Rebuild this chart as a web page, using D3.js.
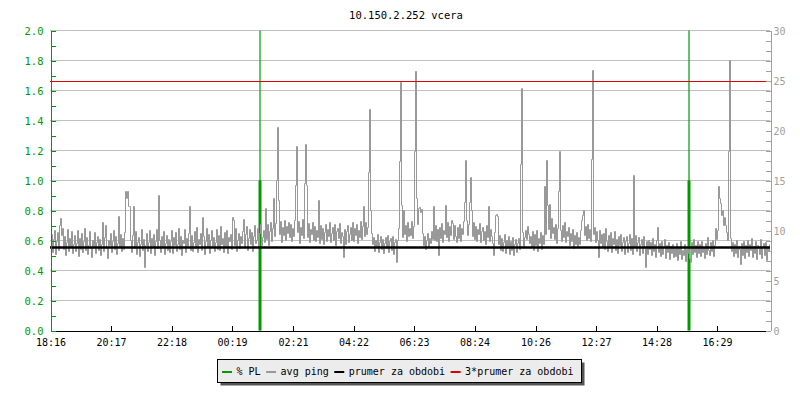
<!DOCTYPE html>
<meta charset="utf-8">
<style>
body { margin: 0; background: #fff; }
svg text { font-family: "DejaVu Sans Mono", monospace; font-size: 10px; }
.grid line { stroke: #c0c0c0; stroke-width: 1px; shape-rendering: crispEdges; }
.axis-pl line, .axis-pl path { stroke: #009a00; shape-rendering: crispEdges; }
.axis-ms line, .axis-ms path { stroke: #a0a0a0; shape-rendering: crispEdges; }
.axis-time line, .axis-time path { stroke: #000; shape-rendering: crispEdges; }
</style>
<svg width="800" height="400" id="graph"></svg>
<script src="https://d3js.org/d3.v7.min.js"></script>
<script>

var title = "10.150.2.252 vcera";
var startTime = "18:16";
var stepMinutes = 2;

// avg ping [ms], one sample every 2 minutes from 18:16 (24 per row = 48 min)
var avgPing = [
  8.4,9.6,7.8,9.1,10.0,7.6,8.9,9.8,8.0,10.5,11.2,9.5,10.2,8.1,9.4,7.5,8.8,10.1,7.9,9.2,8.3,9.9,7.7,8.6,
  9.5,7.9,8.7,10.0,7.4,9.2,8.1,9.7,7.8,8.9,10.2,8.0,9.3,7.6,8.5,9.9,8.2,7.3,9.0,8.4,9.8,7.7,8.8,9.4,
  8.0,9.1,7.5,8.6,10.8,7.9,9.3,10.5,8.2,7.2,9.0,8.5,9.7,7.8,8.9,10.0,8.1,9.4,7.6,8.7,11.4,8.3,9.6,7.9,
  9.2,8.1,9.8,13.9,13.2,13.9,12.4,12.4,9.0,7.8,9.5,12.4,8.2,9.9,7.6,8.8,9.3,7.4,8.6,10.1,8.0,9.1,6.3,8.5,
  9.7,7.9,8.8,10.0,7.7,9.2,8.4,9.6,7.5,8.9,10.1,8.2,13.5,9.0,7.8,9.4,8.3,9.9,7.6,8.7,9.5,8.0,9.1,7.8,
  8.9,10.0,7.7,9.3,8.5,9.8,7.9,8.6,10.2,8.1,9.4,7.5,9.0,8.7,10.1,7.8,9.2,8.4,9.7,12.4,8.0,9.5,7.9,8.8,
  9.9,8.2,10.3,7.8,9.1,8.6,9.7,8.0,11.3,9.4,7.6,8.9,10.2,8.3,9.6,7.7,9.0,10.0,8.4,9.3,7.9,8.8,10.1,8.1,
  9.5,8.0,10.4,8.6,9.2,7.8,9.8,8.4,10.0,7.7,9.3,8.9,9.6,8.1,11.3,11.0,8.5,10.2,7.9,9.0,9.7,8.2,9.4,8.7,
  9.9,11.1,8.3,9.6,10.4,8.0,9.2,10.1,8.6,9.8,7.9,9.4,10.5,8.7,9.0,10.2,8.4,9.7,10.6,8.5,9.3,10.0,8.8,12.2,
  9.1,10.6,8.5,9.9,10.8,8.9,10.2,13.2,9.4,10.7,15.0,20.3,13.0,9.6,10.9,8.8,10.3,9.5,11.0,9.0,10.4,9.7,10.8,9.3,
  10.6,8.9,10.2,9.4,11.0,14.5,18.4,9.8,10.9,8.7,10.3,9.5,11.1,9.2,14.7,18.6,14.5,9.3,10.7,8.8,10.1,9.6,10.8,9.0,
  10.4,8.9,10.0,9.3,13.0,8.7,10.5,9.1,10.2,8.6,9.8,10.6,8.9,10.1,9.4,10.8,8.8,9.7,10.3,9.0,10.6,8.5,9.9,10.2,
  9.2,10.7,8.7,9.8,9.4,7.3,10.1,8.6,9.9,10.5,8.8,9.6,10.3,9.0,10.8,8.9,10.2,9.5,10.6,8.7,10.0,9.3,10.9,9.1,
  10.4,12.4,9.4,10.8,9.6,10.3,15.8,22.1,12.0,9.7,8.6,9.3,7.9,9.0,8.3,9.6,7.8,8.8,9.4,8.1,9.1,7.7,8.7,9.3,
  8.2,9.5,7.8,8.9,9.2,8.0,9.4,7.6,8.8,9.1,6.8,9.0,10.2,16.9,24.8,12.5,9.3,12.0,9.6,10.5,8.9,10.8,9.4,10.2,
  9.5,10.9,9.2,10.4,17.9,25.9,13.2,10.6,12.2,12.3,11.8,12.1,9.7,8.5,9.4,8.1,9.0,9.7,8.3,9.2,8.7,9.9,9.1,12.4,
  9.0,10.5,8.9,10.1,7.5,10.3,9.2,10.7,8.8,10.0,9.6,12.5,9.3,10.8,8.9,10.4,9.5,11.0,10.7,9.1,10.5,9.4,8.8,10.3,
  9.2,10.6,8.9,10.2,9.6,10.9,12.8,17.0,11.0,9.5,10.6,12.8,15.3,12.0,9.4,10.8,9.1,10.4,8.9,10.1,9.6,10.7,8.8,9.9,
  10.3,9.0,9.9,8.6,10.5,9.3,12.4,8.9,10.1,9.4,8.7,7.5,9.8,11.5,11.6,11.4,8.6,9.5,8.0,9.2,7.9,8.8,9.6,7.7,
  9.0,8.2,9.4,7.6,8.9,8.0,9.3,7.5,8.6,9.1,7.8,8.7,9.2,8.1,16.6,24.2,9.8,8.4,9.3,10.0,9.1,10.4,9.6,8.7,
  9.4,8.3,9.9,8.0,9.6,8.5,10.0,7.9,9.2,8.7,9.8,8.1,9.5,8.6,14.4,9.6,17.0,12.5,10.1,12.6,9.2,11.2,9.7,10.3,
  9.1,10.6,8.7,10.2,13.9,17.9,10.0,8.9,10.5,9.3,10.8,8.8,9.9,9.4,10.3,8.5,9.7,8.9,10.1,8.2,9.5,8.6,9.8,8.4,
  9.3,8.6,10.0,11.0,11.5,12.0,9.5,10.4,9.0,10.6,9.2,10.1,8.9,17.1,26.0,9.6,10.3,8.8,9.9,9.0,7.3,10.0,8.7,9.6,
  8.3,9.7,8.1,10.2,8.9,7.9,9.5,8.4,9.8,7.8,9.2,8.6,9.9,8.0,9.1,7.7,9.4,8.5,9.6,7.9,8.8,9.3,7.6,8.9,
  9.4,7.8,8.7,9.6,8.0,9.2,7.6,15.5,8.3,9.5,7.9,8.8,9.3,7.5,8.6,9.1,7.7,9.4,8.2,6.3,8.9,7.6,9.0,8.1,
  8.8,7.5,9.2,7.9,8.6,7.3,9.0,10.3,7.8,8.7,7.4,8.9,7.6,8.3,9.1,7.2,8.5,7.8,8.8,7.1,8.4,7.7,8.6,7.3,
  8.2,7.4,8.7,7.0,8.3,7.6,8.9,7.1,8.0,7.5,8.6,6.9,8.1,7.7,8.4,7.2,6.8,8.8,7.6,9.1,7.8,8.5,7.3,8.9,
  7.7,8.6,7.4,8.9,7.8,8.3,7.2,8.7,7.6,9.3,8.0,7.5,8.8,7.9,9.0,7.4,8.5,10.2,9.1,10.0,14.4,13.2,12.7,11.5,
  12.0,10.5,11.3,10.5,9.8,9.0,17.9,27.0,9.2,7.9,8.8,7.4,8.6,7.7,9.0,7.3,8.4,8.1,6.6,8.7,7.5,8.9,7.2,8.5,
  7.8,9.0,7.4,8.6,8.0,9.2,7.3,8.4,7.7,8.9,7.1,8.5,8.2,7.6,9.1,7.2,8.3,8.7,7.5,8.8,7.0,8.4,7.9,8.6
];
var meanPing = 8.3;

// packet loss [%]
var plTimes = ["01:16", "15:34"];
var plAvg = [1.0, 1.0];
var plMax = [2.0, 2.0];

var timeLabels = ["18:16","20:17","22:18","00:19","02:21","04:22","06:23","08:24","10:26","12:27","14:28","16:29"];
var plTicks = [0, 0.2, 0.4, 0.6, 0.8, 1.0, 1.2, 1.4, 1.6, 1.8, 2.0];
var msTicks = [0, 5, 10, 15, 20, 25, 30];
var legendLabels = ["% PL", "avg ping", "prumer za obdobi", "3*prumer za obdobi"];

var colors = {
  pl: "#009a00",
  ping: "#999999",
  mean: "#000000",
  mean3: "#e00000"
};

function minutesFrom(hhmm) {
  var p = hhmm.split(":"), s = startTime.split(":");
  var m = (+p[0] * 60 + +p[1]) - (+s[0] * 60 + +s[1]);
  if (m < 0) m += 1440;
  return m;
}

var svg = d3.select("svg");

var x = d3.scaleLinear().domain([0, 1440]).range([50, 770]);
var yPL = d3.scaleLinear().domain([0, 2]).range([330.5, 30.5]);
var yMs = d3.scaleLinear().domain([0, 30]).range([330.5, 30.5]);

svg.append("text")
    .attr("x", 406)
    .attr("y", 19)
    .attr("text-anchor", "middle")
    .style("font-size", "10.5px")
    .text(title);

// grid
svg.append("g")
    .attr("class", "grid")
  .selectAll("line")
  .data(plTicks.filter(function(d) { return d > 0; }))
  .enter().append("line")
    .attr("x1", 50)
    .attr("x2", 770)
    .attr("y1", function(d) { return yPL(d); })
    .attr("y2", function(d) { return yPL(d); });

// packet loss - thin max line, thick avg bar
var plG = svg.append("g");
plG.selectAll("line.max")
  .data(plTimes)
  .enter().append("line")
    .attr("class", "max")
    .attr("x1", function(d) { return x(minutesFrom(d)); })
    .attr("x2", function(d) { return x(minutesFrom(d)); })
    .attr("y1", yPL(0))
    .attr("y2", function(d, i) { return yPL(plMax[i]); })
    .attr("stroke", colors.pl)
    .attr("stroke-width", 1.2);
plG.selectAll("line.avg")
  .data(plTimes)
  .enter().append("line")
    .attr("class", "avg")
    .attr("x1", function(d) { return x(minutesFrom(d)); })
    .attr("x2", function(d) { return x(minutesFrom(d)); })
    .attr("y1", yPL(0))
    .attr("y2", function(d, i) { return yPL(plAvg[i]); })
    .attr("stroke", colors.pl)
    .attr("stroke-width", 3);

// avg ping
var line = d3.line()
    .x(function(d, i) { return x(i * stepMinutes) + 0.5; })
    .y(function(d) { return yMs(d); })
    .curve(d3.curveStepAfter);

svg.append("path")
    .datum(avgPing)
    .attr("d", line)
    .attr("fill", "none")
    .attr("stroke", colors.ping)
    .attr("stroke-width", 1);

// mean lines
svg.append("line")
    .attr("x1", 50).attr("x2", 770)
    .attr("y1", yMs(meanPing)).attr("y2", yMs(meanPing))
    .attr("stroke", colors.mean)
    .attr("stroke-width", 2.3);

svg.append("line")
    .attr("x1", 50).attr("x2", 770)
    .attr("y1", yMs(3 * meanPing)).attr("y2", yMs(3 * meanPing))
    .attr("stroke", colors.mean3)
    .attr("stroke-width", 1.2);

// bottom axis
var tAxis = svg.append("g")
    .attr("class", "axis-time")
    .attr("transform", "translate(0.5,330.5)");
tAxis.call(d3.axisTop(x)
    .tickValues(timeLabels.map(minutesFrom))
    .tickSize(5)
    .tickSizeOuter(0)
    .tickFormat(""));
tAxis.selectAll("text").remove();
tAxis.selectAll(".tick")
  .append("text")
    .attr("y", 15)
    .attr("fill", "#000")
    .attr("text-anchor", "middle")
    .text(function(d, i) { return timeLabels[i]; });

// left axis (% PL)
var lAxis = svg.append("g")
    .attr("class", "axis-pl")
    .attr("transform", "translate(50.5,0)");
lAxis.call(d3.axisRight(yPL)
    .tickValues(d3.range(0, 2.05, 0.1))
    .tickSize(5)
    .tickSizeOuter(0)
    .tickFormat(""));
lAxis.selectAll(".tick")
  .filter(function(d) { return plTicks.some(function(t) { return Math.abs(t - d) < 1e-6; }); })
  .append("text")
    .attr("x", -7)
    .attr("dy", "0.35em")
    .attr("fill", colors.pl)
    .attr("text-anchor", "end")
    .style("font-size", "10.5px")
    .text(function(d) { return d3.format(".1f")(d); });

// right axis (ms)
var rAxis = svg.append("g")
    .attr("class", "axis-ms")
    .attr("transform", "translate(770.5,0)");
rAxis.call(d3.axisLeft(yMs)
    .tickValues(d3.range(0, 31, 1))
    .tickSize(5)
    .tickSizeOuter(0)
    .tickFormat(""));
rAxis.selectAll(".tick")
  .filter(function(d) { return msTicks.indexOf(d) >= 0; })
  .append("text")
    .attr("x", 3)
    .attr("dy", "0.35em")
    .attr("fill", "#a0a0a0")
    .attr("text-anchor", "start")
    .text(function(d) { return d; });

// legend
var legend = svg.append("g");
legend.append("rect")
    .attr("x", 220.5).attr("y", 362.5)
    .attr("width", 364).attr("height", 23)
    .attr("fill", "#555");
legend.append("rect")
    .attr("x", 217.5).attr("y", 359.5)
    .attr("width", 364).attr("height", 23)
    .attr("fill", "#ececec")
    .attr("stroke", "#000");

var legendColors = [colors.pl, colors.ping, colors.mean, colors.mean3];
var lx = 222;
legendLabels.forEach(function(lbl, i) {
  legend.append("line")
      .attr("x1", lx).attr("x2", lx + 10)
      .attr("y1", 372).attr("y2", 372)
      .attr("stroke", legendColors[i])
      .attr("stroke-width", 2);
  var t = legend.append("text")
      .attr("x", lx + 14.5)
      .attr("y", 375)
      .text(lbl);
  lx = lx + 14.5 + t.node().getComputedTextLength() + 5.5;
});

</script>
